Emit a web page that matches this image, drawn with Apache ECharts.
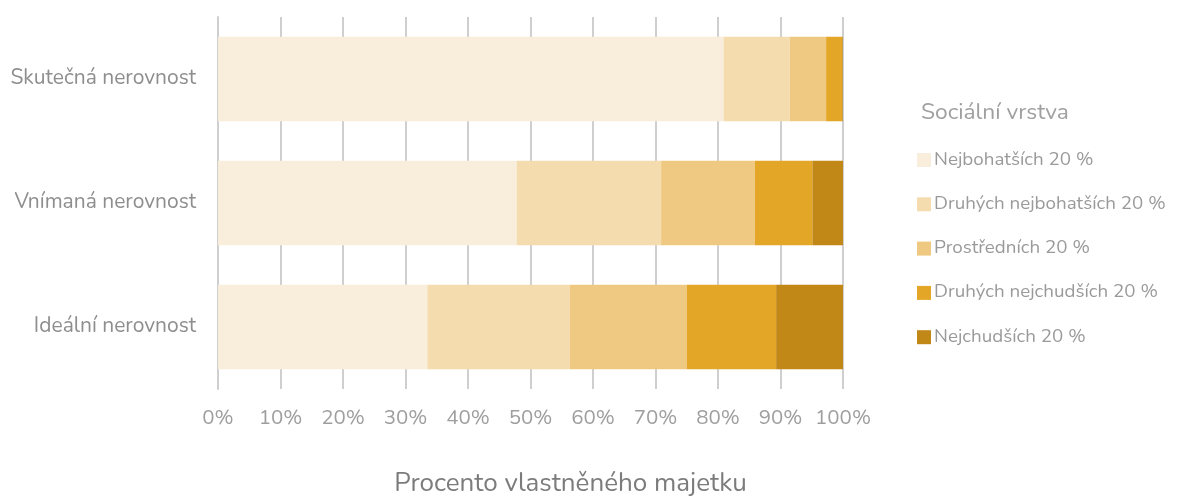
<!DOCTYPE html>
<html>
<head>
<meta charset="utf-8">
<script src="https://cdn.jsdelivr.net/npm/echarts@6/dist/echarts.min.js"></script>
<style>
  html, body { margin: 0; padding: 0; background: #fff; }
  #chart { width: 1193px; height: 498px; }
</style>
</head>
<body>
<div id="chart"></div>
<script>
// kategorie (odspodu nahoru, jak je kreslí category osa)
const categories = ['Ideální nerovnost', 'Vnímaná nerovnost', 'Skutečná nerovnost']
const seriesNames = [
	'Nejbohatších 20 %',
	'Druhých nejbohatších 20 %',
	'Prostředních 20 %',
	'Druhých nejchudších 20 %',
	'Nejchudších 20 %'
]
// podíly v % pro [Ideální, Vnímaná, Skutečná]
const richest = [33.5, 47.8, 80.9]
const secondRichest = [22.8, 23.1, 10.6]
const middle = [18.7, 15.0, 5.8]
const secondPoorest = [14.3, 9.2, 2.6]
const poorest = [10.7, 4.9, 0.1]
const xTicks = [0, 10, 20, 30, 40, 50, 60, 70, 80, 90, 100]

const values = [richest, secondRichest, middle, secondPoorest, poorest]
const colors = ['#F9EEDB', '#F4DCAF', '#EFC981', '#E4A627', '#C18818']

let font = 'Nunito, "Open Sans", "Noto Sans", sans-serif'

let chart = echarts.init(document.getElementById('chart'))
let option = {
	animation: false,
	color: colors,
	textStyle: { fontFamily: font },
	title: {
		text: 'Sociální vrstva',
		left: 916,
		top: 97,
		textStyle: { fontFamily: font, fontSize: 22.8, fontWeight: 'normal', color: '#a0a0a0' }
	},
	legend: {
		orient: 'vertical',
		left: 912,
		top: 144,
		itemWidth: 14,
		itemHeight: 14,
		itemGap: 22.3,
		icon: 'rect',
		data: seriesNames,
		textStyle: { fontFamily: font, fontSize: 18.8, color: '#9a9a9a', lineHeight: 22, padding: [0, 0, 0, -2] }
	},
	grid: {
		left: 218,
		right: 350,
		top: 17,
		bottom: 109,
		outerBoundsMode: 'none',
		containLabel: false
	},
	xAxis: {
		type: 'value',
		min: 0,
		max: 100,
		interval: 10,
		name: 'Procento vlastněného majetku',
		nameLocation: 'middle',
		nameGap: 83,
		nameTextStyle: { fontFamily: font, fontSize: 26, color: '#7c7c7c', padding: [0, 0, 0, 80] },
		axisLine: { show: false },
		axisTick: { show: false },
		axisLabel: {
			fontSize: 20.5,
			color: '#9e9e9e',
			margin: 20,
			formatter: v => xTicks.indexOf(v) >= 0 ? v + '%' : ''
		},
		splitLine: { show: true, lineStyle: { color: '#cfcfcf', width: 2 } }
	},
	yAxis: {
		type: 'category',
		data: categories,
		axisLine: { show: true, lineStyle: { color: '#cfcfcf', width: 2 } },
		axisTick: { show: false },
		axisLabel: { fontSize: 21, color: '#8e8e8e', margin: 22 }
	},
	series: seriesNames.map((name, i) => ({
		name: name,
		type: 'bar',
		stack: 'total',
		barCategoryGap: '32%',
		data: values[i],
		itemStyle: { color: colors[i] }
	}))
}
chart.setOption(option)
</script>
</body>
</html>
